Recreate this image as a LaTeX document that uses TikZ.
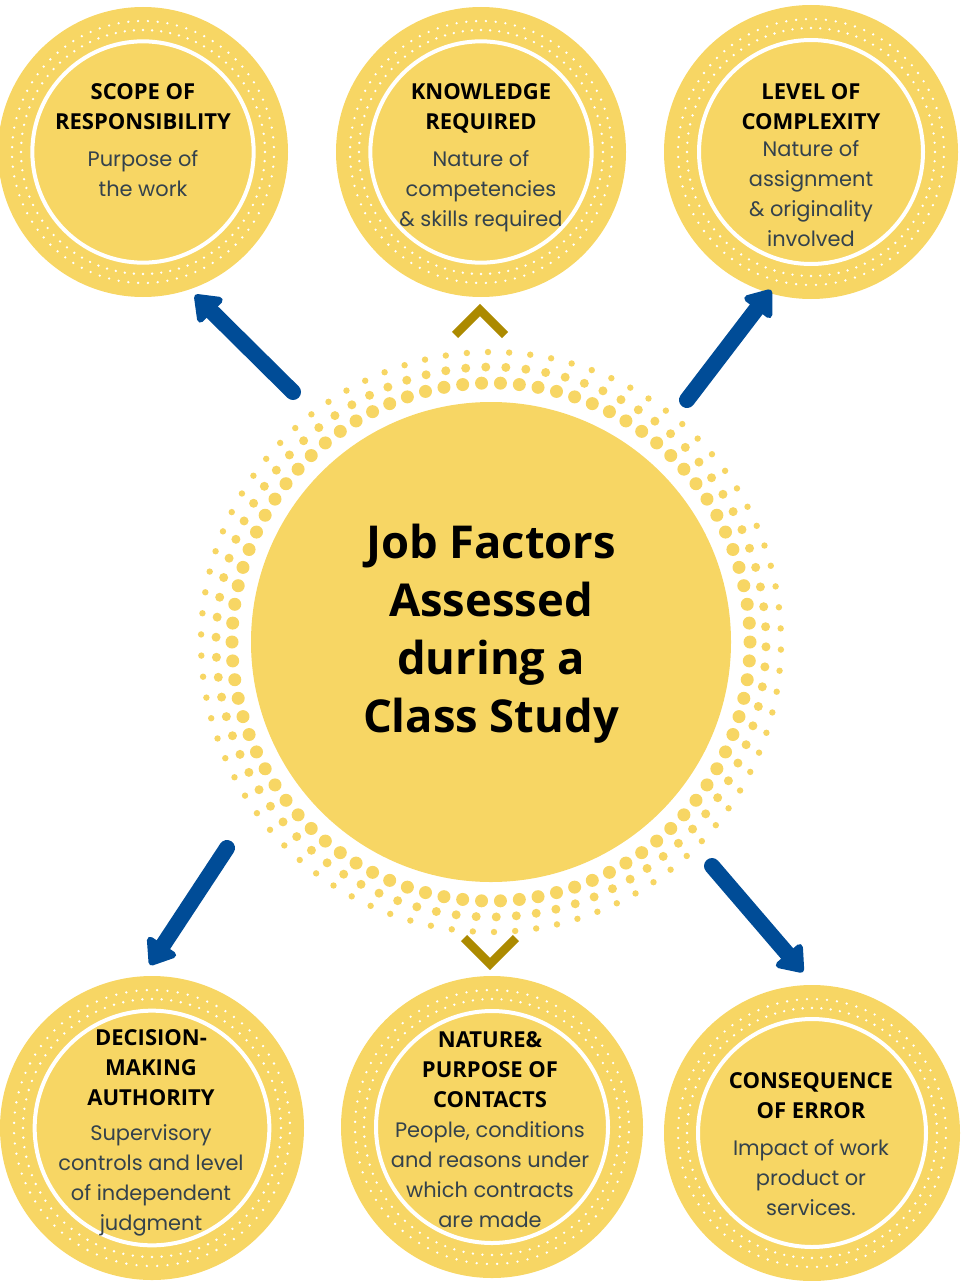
\documentclass[tikz,border=0pt]{standalone}
\usepackage{fontspec}
\setmainfont{Poppins}
\newfontfamily\headfont{Open Sans}
\usetikzlibrary{arrows.meta,backgrounds}

\definecolor{gold}{RGB}{247,214,100}
\definecolor{navy}{RGB}{0,76,151}
\definecolor{olive}{RGB}{172,138,0}
\definecolor{slate}{RGB}{52,66,76}

% heading and body type inside the discs
\newcommand{\hfont}{\headfont\bfseries\fontsize{16.5}{22.5}\selectfont\color{black}}
\newcommand{\bfont}{\normalfont\fontsize{15.7}{22.5}\selectfont\color{slate}}

\tikzset{
    factor/.style={circle, fill=gold, draw=white, line width=3pt, inner sep=0pt},
    blurb/.style={align=center, inner sep=0pt, font=\bfont},
    pointer/.style={navy, line width=12pt, line cap=round, -{Triangle[length=20pt,width=29pt,round]}},
    chevron/.style={olive, line width=6.5pt, line join=miter}
}

\begin{document}
\begin{tikzpicture}[x=0.75pt,y=-0.75pt]
    \useasboundingbox (0,0) rectangle (960,1281);

    % big disc with its halo of dots
    \foreach \k in {0,...,85}{
        \fill[gold] (491,642) ++({360/86*\k}:259) circle (6.5);
        \fill[gold] (491,642) ++({360/86*\k+1}:275) circle (4.5);
        \fill[gold] (491,642) ++({360/86*\k+1.5}:290) circle (3.2);
    }
    \node[circle, fill=gold, minimum size=360pt] (main) at (491,642) {};
    \node[align=center, font=\headfont\bfseries\fontsize{34}{43.5}\selectfont] (title) at (491,634)
        {Job Factors\\Assessed\\during a\\Class Study};

    % the six factors
    \node[factor, minimum size=166pt] (scope) at (143,152) {};
    \node[factor, minimum size=166pt] (knowledge) at (481,152) {};
    \node[factor, minimum size=168pt] (complexity) at (811,152) {};
    \node[factor, minimum size=176pt] (authority) at (152,1128) {};
    \node[factor, minimum size=174pt] (contacts) at (492,1127) {};
    \node[factor, minimum size=171pt] (consequence) at (812,1133) {};

    \begin{scope}[on background layer]
        \foreach \n/\R in {scope/145,knowledge/145,complexity/147,authority/152,contacts/151,consequence/148}{
            \fill[gold] (\n) circle (\R);
            \foreach \a in {0,...,83}{
                \fill[white] (\n) ++({360/84*\a}:{\R-23}) circle (1.3);
                \fill[white] (\n) ++({360/84*\a+180/84}:{\R-14}) circle (1.3);
            }
        }
    \end{scope}

    \node[blurb] (scopetext) at (143,140)
        {\hfont SCOPE OF\\\hfont RESPONSIBILITY\\[5pt]Purpose of\\the work};
    \node[blurb] (knowledgetext) at (481,158)
        {\hfont KNOWLEDGE\\\hfont REQUIRED\\[5pt]Nature of\\competencies\\\& skills required};
    \node[blurb] (complexitytext) at (811,165)
        {\hfont LEVEL OF\\\hfont COMPLEXITY\\[-2pt]Nature of\\assignment\\\& originality\\involved};
    \node[blurb] (authoritytext) at (151,1133)
        {\hfont DECISION-\\\hfont MAKING\\\hfont AUTHORITY\\[4pt]Supervisory\\controls and level\\of independent\\judgment};
    \node[blurb] (contactstext) at (490,1130)
        {\hfont NATURE\&\\\hfont PURPOSE OF\\\hfont CONTACTS\\People, conditions\\and reasons under\\which contracts\\are made};
    \node[blurb] (consequencetext) at (811,1144)
        {\hfont CONSEQUENCE\\\hfont OF ERROR\\[5pt]Impact of work\\product or\\services.};

    % arrows out of the centre
    \coordinate (s1) at (293,392); \coordinate (e1) at (195,295);
    \coordinate (s2) at (687,400); \coordinate (e2) at (771,290);
    \coordinate (s3) at (227,848); \coordinate (e3) at (150,965);
    \coordinate (s4) at (712,866); \coordinate (e4) at (803,972);
    \foreach \i in {1,...,4}
        \draw[pointer] (s\i) -- (e\i);

    % little chevrons above and below
    \draw[chevron] (455,335) -- (480,310) -- (505,335);
    \draw[chevron] (464,938) -- (490,964) -- (516,938);
\end{tikzpicture}
\end{document}
